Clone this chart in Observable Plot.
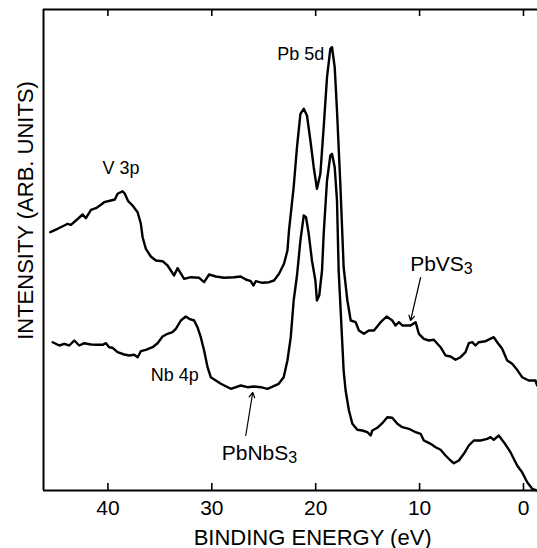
<!DOCTYPE html>
<html>
<head>
<meta charset="utf-8">
<script src="https://cdn.jsdelivr.net/npm/d3@7"></script>
<script src="https://cdn.jsdelivr.net/npm/@observablehq/plot@0.6"></script>
<style>
  html, body { margin: 0; padding: 0; background: #fff; }
  #chart svg { display: block; }
</style>
</head>
<body>
<div id="chart"></div>
<script>
// Valence-band / shallow core-level photoemission spectra (arbitrary intensity units)
const pbvsEnergy = [45.55,44.84,44.20,43.88,43.56,43.08,42.43,42.12,41.63,41.15,40.67,40.36,39.71,39.33,39.07,38.59,38.37,38.05,37.63,37.14,36.83,36.66,36.35,35.87,35.38,34.74,34.26,33.63,33.30,32.66,32.02,31.22,30.74,30.26,29.62,28.82,27.86,27.21,26.73,26.25,25.99,25.77,25.13,24.49,24.01,23.53,23.05,22.72,22.57,22.12,21.80,21.47,21.15,20.84,20.51,20.19,19.88,19.55,19.23,18.91,18.59,18.43,18.17,17.95,17.63,17.31,16.95,16.63,16.15,15.84,15.36,14.88,14.39,13.75,13.17,12.63,12.31,11.99,11.66,10.87,10.38,10.07,9.59,9.11,8.63,7.98,7.50,7.02,6.54,6.06,5.58,5.26,4.93,4.62,4.30,3.65,2.86,2.53,2.05,1.57,1.09,0.61,0.13,-0.51,-1.15,-1.32];
const pbvsIntensity = [258.3,261.7,265,266.7,265.7,270,276,272.3,280.7,282.3,285.7,288.3,290,291,296.7,299.3,296.7,289.3,285,278.3,266.7,253.3,241.7,234,230,229.3,225,215,222.3,211.7,213.3,212.7,208.3,216,214,212.7,213.3,214,211,209.3,205,209.3,207.7,208.3,210,216.7,226.7,240,260,303.3,343.3,376.7,381.7,375,350,323.3,301.7,316.7,363.3,413.3,441.7,443.3,423.3,380,306.7,223.3,190,170,168.3,160,156.7,160,160,168.3,174,170,165,168.3,165,165,168.3,156.7,151.7,150,150.7,143.3,135,134,130.7,133.3,138.3,147.3,148.3,145,148.3,149.3,153.3,148.3,141.7,130,126.7,120.7,113.3,110,110,105];

const pbnbEnergy = [45.32,44.68,44.20,43.72,43.24,42.76,42.28,41.63,40.99,40.51,40.19,39.88,39.55,39.07,38.43,37.95,37.47,37.14,36.83,36.35,35.70,35.22,34.74,34.26,33.78,33.46,32.98,32.50,32.18,31.70,31.38,31.06,30.74,30.41,30.10,29.13,28.17,27.21,26.57,25.93,25.29,24.64,23.56,23.08,22.72,22.40,22.12,21.80,21.47,21.15,20.93,20.67,20.36,20.03,19.88,19.66,19.39,19.23,18.91,18.59,18.43,18.17,17.95,17.79,17.63,17.31,17.12,16.80,16.47,15.99,15.51,15.03,14.71,14.55,14.07,13.59,13.11,12.63,12.14,11.66,11.03,10.38,9.90,9.59,9.26,8.94,8.46,7.98,7.50,7.02,6.70,6.22,5.74,5.26,4.78,4.13,3.49,3.17,2.86,2.38,1.89,1.25,0.61,0.13,-0.36,-0.84,-1.32];
const pbnbIntensity = [148.3,145,146.7,145,150,145,147.3,146,145.7,145.7,147.3,143.3,142.7,138.3,136,135,135.7,133.3,139.3,140.7,143.3,147.3,154,156.7,158.3,161.7,170,174,171.7,170,163.3,153.3,140,123.3,113.3,106.7,101.7,105,103.3,104,103.3,101.7,106.7,113.3,130,153.3,190,215,250,275,273.3,256.7,230,210,190,195,220,256.7,310,335,336.7,323.3,290,220,187,120,100,80,66.7,60.7,60,58.3,55,60,62.7,67.3,73.3,72.7,66.7,63.3,61.7,58.3,56.7,50,48.3,46.7,43.3,40.7,35,30,27.3,30,36.7,45,50,50,51.7,53.3,50.7,55,48.3,38.3,25,18.3,8.3,1.7,0];

const energyTicks = [40, 30, 20, 10, 0];

// peak assignments
const peakNames = ["V 3p", "Pb 5d", "Nb 4p"];
const peakEnergy = [38.75, 21.44, 33.56];
const peakIntensity = [317, 431, 110];

// sample names (formula body + subscript), with arrows pointing at each trace
const sampleBody = ["PbVS", "PbNbS"];
const sampleSub = ["3", "3"];
const sampleEnergy = [5.74, 22.64];
const sampleIntensity = [220, 31];
const arrowFromEnergy = [9.90, 26.73];
const arrowFromIntensity = [213, 55];
const arrowToEnergy = [10.87, 26.06];
const arrowToIntensity = [170, 98];

const xLabel = "BINDING ENERGY (eV)";
const yLabel = "INTENSITY (ARB. UNITS)";

// tidy table for the line mark
const spectra = [
  ...pbvsEnergy.map((e, i) => ({sample: "PbVS3", energy: e, intensity: pbvsIntensity[i]})),
  ...pbnbEnergy.map((e, i) => ({sample: "PbNbS3", energy: e, intensity: pbnbIntensity[i]}))
];
const peaks = peakNames.map((name, i) => ({name, energy: peakEnergy[i], intensity: peakIntensity[i]}));
const samples = sampleBody.map((body, i) => ({
  body, sub: sampleSub[i], energy: sampleEnergy[i], intensity: sampleIntensity[i],
  x1: arrowFromEnergy[i], y1: arrowFromIntensity[i], x2: arrowToEnergy[i], y2: arrowToIntensity[i]
}));

const eMax = 46.2, eMin = -1.35, iMax = 481;
const font = "'Liberation Sans', Arial, Helvetica, sans-serif";

const chart = Plot.plot({
  width: 537,
  height: 548,
  marginLeft: 43,
  marginRight: 0,
  marginTop: 9,
  marginBottom: 58,
  style: {fontFamily: font, background: "#fff", color: "#000"},
  x: {domain: [eMax, eMin], axis: null},
  y: {domain: [0, iMax], axis: null},
  marks: [
    // frame: left, top and bottom edges
    Plot.ruleX([eMax], {stroke: "#000", strokeWidth: 2}),
    Plot.ruleY([0, iMax], {stroke: "#000", strokeWidth: 2}),
    // inward ticks on bottom and top edges
    Plot.ruleX(energyTicks, {y1: 0, y2: 7, stroke: "#000", strokeWidth: 1.6}),
    Plot.ruleX(energyTicks, {y1: iMax, y2: iMax - 7, stroke: "#000", strokeWidth: 1.6}),
    Plot.axisX(energyTicks, {anchor: "bottom", tickSize: 0, tickPadding: 10, fontSize: 21, label: null}),
    // spectra
    Plot.line(spectra, {x: "energy", y: "intensity", z: "sample", stroke: "#000", strokeWidth: 2.4, strokeLinejoin: "round"}),
    // peak labels
    Plot.text(peaks, {x: "energy", y: "intensity", text: "name", fontSize: 18, textAnchor: "middle", lineAnchor: "bottom"}),
    // sample labels with subscripts
    Plot.text(samples, {x: "energy", y: "intensity", text: "body", fontSize: 21, textAnchor: "end", lineAnchor: "bottom"}),
    Plot.text(samples, {x: "energy", y: "intensity", text: "sub", fontSize: 16, textAnchor: "start", lineAnchor: "bottom", dx: 0, dy: 3}),
    Plot.arrow(samples, {x1: "x1", y1: "y1", x2: "x2", y2: "y2", stroke: "#000", strokeWidth: 1.2, headLength: 7, bend: 0}),
    // axis titles
    Plot.text([xLabel], {x: 20.29, y: -54, text: d => d, fontSize: 22, textAnchor: "middle", lineAnchor: "bottom"}),
    Plot.text([yLabel], {x: 47.24, y: 280, text: d => d, fontSize: 22, textAnchor: "middle", lineAnchor: "bottom", rotate: -90})
  ]
});

document.getElementById("chart").appendChild(chart);
</script>
</body>
</html>
